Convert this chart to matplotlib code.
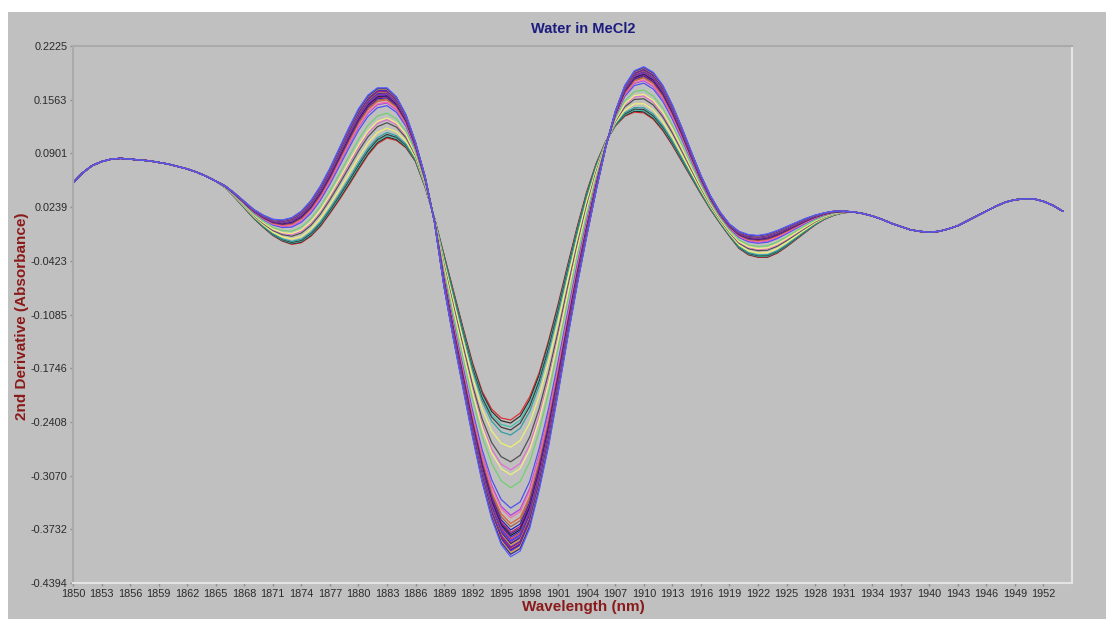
import numpy as np
import matplotlib
matplotlib.use("Agg")
import matplotlib.pyplot as plt
from matplotlib.patches import Rectangle

plt.rcParams["font.family"] = ["Liberation Sans", "DejaVu Sans"]

# wavelength grid (nm), one point per nm
wavelength = np.arange(1850, 1955)

# 2nd derivative values
shared_left = [0.054, 0.066, 0.075, 0.080, 0.083, 0.084, 0.083, 0.082, 0.081, 0.079,
               0.077, 0.074, 0.071, 0.067, 0.062, 0.056]                       # 1850-1865
shallow_mid = [0.048, 0.036, 0.023, 0.010, -0.001, -0.011, -0.018, -0.022, -0.020, -0.012,
               0.000, 0.016, 0.033, 0.051, 0.070, 0.088, 0.102, 0.109, 0.106, 0.097,
               0.080, 0.049, 0.010, -0.035, -0.080, -0.125, -0.168, -0.203, -0.225, -0.236,
               -0.2385, -0.230, -0.210, -0.180, -0.140, -0.095, -0.047, 0.000, 0.043, 0.078,
               0.105, 0.124, 0.136, 0.141, 0.140, 0.132, 0.118, 0.100, 0.080, 0.060,
               0.040, 0.021, 0.004, -0.012, -0.027, -0.035, -0.038, -0.038, -0.033, -0.025,
               -0.016, -0.007, 0.002, 0.009, 0.014, 0.017, 0.018]              # 1866-1932
deep_mid = [0.050, 0.041, 0.031, 0.021, 0.014, 0.009, 0.008, 0.011, 0.019, 0.032,
            0.050, 0.072, 0.097, 0.122, 0.145, 0.162, 0.171, 0.171, 0.160, 0.138,
            0.104, 0.062, 0.005, -0.075, -0.140, -0.200, -0.260, -0.315, -0.360, -0.392,
            -0.407, -0.400, -0.372, -0.325, -0.270, -0.205, -0.137, -0.072, -0.012, 0.045,
            0.098, 0.142, 0.174, 0.192, 0.197, 0.190, 0.174, 0.150, 0.122, 0.092,
            0.063, 0.038, 0.018, 0.003, -0.006, -0.010, -0.011, -0.009, -0.005, 0.000,
            0.005, 0.010, 0.014, 0.017, 0.019, 0.019, 0.018]                   # 1866-1932
shared_right = [0.016, 0.013, 0.009, 0.004, 0.000, -0.004, -0.006, -0.007, -0.006, -0.003,
                0.001, 0.007, 0.013, 0.019, 0.025, 0.030, 0.033, 0.034, 0.034, 0.031,
                0.026, 0.019]                                                   # 1933-1954

# trough depth at 1896 nm for each spectrum, and its colour
trough_depth = [-0.2385, -0.2422, -0.2470, -0.2508, -0.2570, -0.2720, -0.2900, -0.3000,
                -0.3060, -0.3220, -0.3470, -0.3560, -0.3590, -0.3660, -0.3700, -0.3740,
                -0.3770, -0.3790, -0.3810, -0.3830, -0.3850, -0.3870, -0.3880, -0.3900,
                -0.3910, -0.3930, -0.3950, -0.3960, -0.3980, -0.3990, -0.4000, -0.4020,
                -0.4040, -0.4070]
line_colors = ["#e03030", "#303030", "#40c0b0", "#404040", "#30a0a0", "#f0f070", "#505050",
               "#e070d0", "#f0f080", "#70d070", "#5050f0", "#b040e0", "#f070b0", "#e06040",
               "#a06040", "#2020c0", "#c02060", "#5020a0", "#202020", "#3030e0", "#e04040",
               "#7030c0", "#4040ff", "#c03070", "#2a2a90", "#e09030", "#3838d8", "#902090",
               "#d03030", "#2020b0", "#6030d0", "#e0a040", "#303080", "#5a5aff"]

y_ticks = [0.2225, 0.1563, 0.0901, 0.0239, -0.0423, -0.1085, -0.1746, -0.2408, -0.3070,
           -0.3732, -0.4394]
x_ticks = list(range(1850, 1953, 3))

shallow = np.array(shared_left + shallow_mid + shared_right)
deep = np.array(shared_left + deep_mid + shared_right)
i_min = list(wavelength).index(1896)

W, H = 1106, 619
fig = plt.figure(figsize=(W / 100, H / 100), dpi=100, facecolor="white")
fig.patches.append(Rectangle((8 / W, 0), 1, (H - 12) / H, transform=fig.transFigure,
                             facecolor="#c0c0c0", edgecolor="none", zorder=-5))

ax = fig.add_axes([73 / W, 1 - 583 / H, (1072 - 73) / W, (583 - 46) / H])
ax.set_facecolor("#c0c0c0")

# each spectrum sits between the shallowest and deepest read-off profiles
for depth, color in zip(trough_depth, line_colors):
    f = (depth - shallow[i_min]) / (deep[i_min] - shallow[i_min])
    ax.plot(wavelength, shallow + f * (deep - shallow), color=color, lw=0.9)

ax.set_xlim(1850, 1955)
ax.set_ylim(-0.4394, 0.2225)
ax.set_xticks(x_ticks)
ax.set_xticklabels([str(t) for t in x_ticks])
ax.set_yticks(y_ticks)
ax.set_yticklabels([f"{t:.4f}" for t in y_ticks])
ax.tick_params(length=2, width=1, color="#909090", labelsize=7.8, labelcolor="#2a2a2a", pad=2)

ax.spines["top"].set_color("#aaaaaa")
ax.spines["left"].set_color("#aaaaaa")
ax.spines["right"].set_color("#e4e4e4")
ax.spines["bottom"].set_color("#e4e4e4")
for s in ax.spines.values():
    s.set_linewidth(1.5)

fig.text(583 / W, 1 - 29 / H, "Water in MeCl2", ha="center", va="center",
         fontsize=10.5, fontweight="bold", color="#1c1c80")
fig.text(583 / W, 1 - 607 / H, "Wavelength (nm)", ha="center", va="center",
         fontsize=11, fontweight="bold", color="#8b1a1a")
fig.text(22 / W, 1 - 316 / H, "2nd Derivative (Absorbance)", ha="center", va="center",
         rotation=90, fontsize=11, fontweight="bold", color="#8b1a1a")

fig.savefig("out.png", dpi=100, facecolor="white")
